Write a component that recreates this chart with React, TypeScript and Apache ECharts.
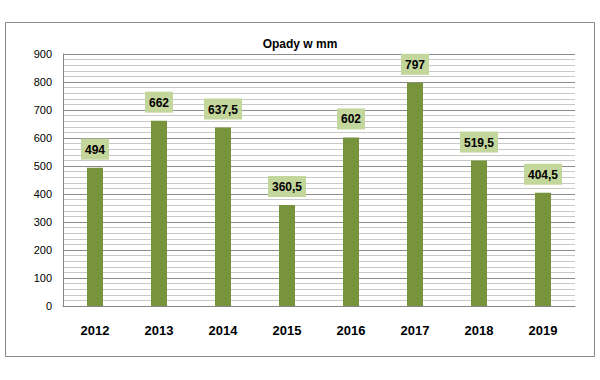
import React, { useEffect, useRef } from "react";
import * as echarts from "echarts";

const categories = ["2012", "2013", "2014", "2015", "2016", "2017", "2018", "2019"];
const values = [494, 662, 637.5, 360.5, 602, 797, 519.5, 404.5];
const title = "Opady w mm";

export default function App() {
  const ref = useRef<HTMLDivElement>(null);
  useEffect(() => {
    document.body.style.margin = "0";
    const chart = echarts.init(ref.current!, null, { renderer: "svg" });
    const font = "'Liberation Sans', Arial, sans-serif";
    chart.setOption({
      animation: false,
      backgroundColor: "#fff",
      textStyle: { fontFamily: font },
      title: {
        text: title,
        left: "center",
        top: 33,
        textStyle: { fontSize: 12, fontWeight: "bold", color: "#000", fontFamily: font },
      },
      graphic: [
        {
          type: "rect",
          shape: { x: 5.5, y: 22.5, width: 589, height: 334 },
          style: { fill: "none", stroke: "#8a8a8a", lineWidth: 1 },
          silent: true,
        },
      ],
      grid: { left: 63, top: 54, width: 512, height: 252 },
      xAxis: {
        type: "category",
        data: categories,
        axisLine: { lineStyle: { color: "#868686" } },
        axisTick: { show: false },
        axisLabel: { fontSize: 13, fontWeight: "bold", color: "#000", margin: 18, fontFamily: font },
      },
      yAxis: {
        type: "value",
        min: 0,
        max: 900,
        interval: 100,
        axisLine: { show: true, lineStyle: { color: "#868686" } },
        axisTick: { show: false },
        axisLabel: { fontSize: 11, color: "#000", margin: 11, fontFamily: font },
        splitLine: { lineStyle: { color: "#8c8c8c", width: 1 } },
        minorTick: { show: false, splitNumber: 5 },
        minorSplitLine: { show: true, lineStyle: { color: "#c8c8c8", width: 1 } },
      },
      series: [
        {
          type: "bar",
          data: values,
          barWidth: 16,
          itemStyle: { color: "#77933c" },
          label: {
            show: true,
            position: "top",
            distance: 8,
            formatter: (p: any) => String(p.value).replace(".", ","),
            backgroundColor: "#c3d69b",
            padding: [5, 4, 4, 4],
            fontSize: 12,
            fontWeight: "bold",
            color: "#000",
            fontFamily: font,
          },
        },
      ],
    });
    return () => chart.dispose();
  }, []);
  return <div ref={ref} style={{ width: 600, height: 380 }} />;
}
